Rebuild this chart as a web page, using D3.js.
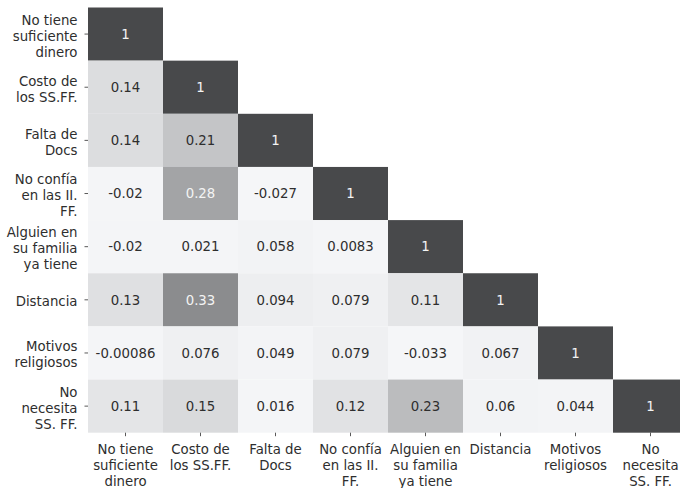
<!DOCTYPE html>
<html>
<head>
<meta charset="utf-8">
<script src="https://cdn.jsdelivr.net/npm/d3@7"></script>
<style>
  html, body { margin: 0; padding: 0; background: #ffffff; }
  svg { display: block; }
  text { font-family: "DejaVu Sans", sans-serif; }
</style>
</head>
<body>
<svg id="chart" width="680" height="488"></svg>
<script>
// Variables of the survey (each label is split into its display lines)
const categories = [
  ["No tiene", "suficiente", "dinero"],
  ["Costo de", "los SS.FF."],
  ["Falta de", "Docs"],
  ["No confía", "en las II.", "FF."],
  ["Alguien en", "su familia", "ya tiene"],
  ["Distancia"],
  ["Motivos", "religiosos"],
  ["No", "necesita", "SS. FF."]
];

// Lower triangle of the correlation matrix, row by row
const row0 = [1];
const row1 = [0.14, 1];
const row2 = [0.14, 0.21, 1];
const row3 = [-0.02, 0.28, -0.027, 1];
const row4 = [-0.02, 0.021, 0.058, 0.0083, 1];
const row5 = [0.13, 0.33, 0.094, 0.079, 0.11, 1];
const row6 = [-0.00086, 0.076, 0.049, 0.079, -0.033, 0.067, 1];
const row7 = [0.11, 0.15, 0.016, 0.12, 0.23, 0.06, 0.044, 1];
const rows = [row0, row1, row2, row3, row4, row5, row6, row7];

// Layout
const gridLeft = 88, gridTop = 7.5, cellW = 75, cellH = 53.15;
const n = categories.length;
const idx = d3.range(n);

const x = d3.scaleBand().domain(idx).range([gridLeft, gridLeft + n * cellW]).padding(0);
const y = d3.scaleBand().domain(idx).range([gridTop, gridTop + n * cellH]).padding(0);

// Grey ramp: light for weak correlations, dark for strong ones
const grey = d3.scaleLinear()
  .domain([-0.05, 0.05, 0.094, 0.11, 0.14, 0.21, 0.28, 0.33, 0.45, 1])
  .range([246, 244, 238, 229, 221, 197, 164, 140, 73, 73])
  .clamp(true);
const color = v => {
  const g = grey(v);
  return d3.rgb(g - 1, g, g + 2).formatHex();
};

// Text colour chosen from the cell's luminance
function lum(c) {
  const rgb = d3.rgb(c);
  const f = u => { u /= 255; return u <= 0.03928 ? u / 12.92 : Math.pow((u + 0.055) / 1.055, 2.4); };
  return 0.2126 * f(rgb.r) + 0.7152 * f(rgb.g) + 0.0722 * f(rgb.b);
}

const fmt = d3.formatLocale({decimal: ".", thousands: ",", grouping: [3], currency: ["", ""], minus: "-"}).format(".2~g");

const cells = [];
rows.forEach((r, i) => r.forEach((v, j) => cells.push({i, j, v})));

const svg = d3.select("#chart");
const textColor = "#2e2e2e";

const g = svg.append("g");
g.selectAll("rect.cell")
  .data(cells)
  .join("rect")
  .attr("class", "cell")
  .attr("x", d => x(d.j))
  .attr("y", d => y(d.i))
  .attr("width", x.bandwidth())
  .attr("height", y.bandwidth())
  .attr("fill", d => color(d.v));

g.selectAll("text.val")
  .data(cells)
  .join("text")
  .attr("class", "val")
  .attr("x", d => x(d.j) + x.bandwidth() / 2)
  .attr("y", d => y(d.i) + y.bandwidth() / 2 + 4.8)
  .attr("text-anchor", "middle")
  .attr("font-size", 13.3)
  .attr("fill", d => lum(color(d.v)) > 0.408 ? textColor : "#f4f4f4")
  .text(d => fmt(d.v));

// Axes
const lineH = 16;
const yAxis = d3.axisLeft(y).tickSize(3.5).tickPadding(3.5).tickFormat(() => "");
const yg = svg.append("g").attr("transform", `translate(${gridLeft},0)`).call(yAxis);
yg.select(".domain").remove();
yg.selectAll(".tick line").attr("stroke", textColor).attr("stroke-width", 0.8);
yg.selectAll(".tick").each(function(d) {
  const lines = categories[d];
  const t = d3.select(this).select("text")
    .attr("x", -10.5).attr("y", 0).attr("dy", null)
    .attr("text-anchor", "end")
    .attr("font-size", 13.3)
    .attr("font-family", "DejaVu Sans, sans-serif")
    .attr("fill", textColor);
  lines.forEach((s, k) => {
    t.append("tspan")
      .attr("x", -10.5)
      .attr("y", (k - (lines.length - 1) / 2) * lineH + 6.5)
      .text(s);
  });
});

const xAxis = d3.axisBottom(x).tickSize(3.5).tickPadding(3.5).tickFormat(() => "");
const xg = svg.append("g").attr("transform", `translate(0,${gridTop + n * cellH})`).call(xAxis);
xg.select(".domain").remove();
xg.selectAll(".tick line").attr("stroke", textColor).attr("stroke-width", 0.8);
xg.selectAll(".tick").each(function(d) {
  const lines = categories[d];
  const t = d3.select(this).select("text")
    .attr("y", 0).attr("dy", null)
    .attr("text-anchor", "middle")
    .attr("font-size", 13.3)
    .attr("font-family", "DejaVu Sans, sans-serif")
    .attr("fill", textColor);
  lines.forEach((s, k) => {
    t.append("tspan")
      .attr("x", 0)
      .attr("y", 21 + k * lineH)
      .text(s);
  });
});
</script>
</body>
</html>
